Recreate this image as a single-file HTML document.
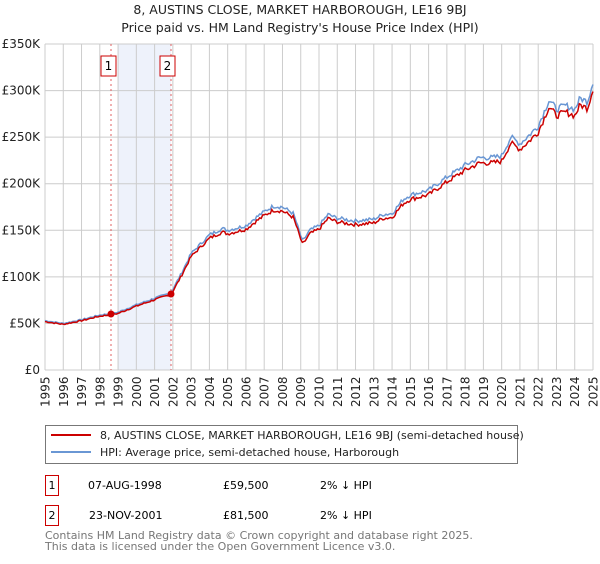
<!DOCTYPE html>
<html><head><meta charset="utf-8"><style>
body{margin:0;background:#fff;font-family:"DejaVu Sans","Liberation Sans",sans-serif;}
</style></head><body>
<svg id="s" width="600" height="560" xmlns="http://www.w3.org/2000/svg" font-family="DejaVu Sans, Liberation Sans, sans-serif">
<text x="300" y="14" font-size="12.5" text-anchor="middle" fill="#222">8, AUSTINS CLOSE, MARKET HARBOROUGH, LE16 9BJ</text>
<text x="300" y="32" font-size="12.5" text-anchor="middle" fill="#222">Price paid vs. HM Land Registry's House Price Index (HPI)</text>
<rect x="118" y="44" width="53" height="326" fill="#eef2fb"/>
<g id="grid" stroke="#ccc" stroke-width="1"></g>
<line x1="111" y1="44" x2="111" y2="370" stroke="#e06060" stroke-dasharray="2,3"/>
<line x1="171" y1="44" x2="171" y2="370" stroke="#e06060" stroke-dasharray="2,3"/>
<g id="ylab" font-size="12" text-anchor="end" fill="#222"></g>
<g id="xlab" font-size="12" fill="#222"></g>
<path id="hpi" fill="none" stroke="#6a97d4" stroke-width="1.5"/>
<path id="pp" fill="none" stroke="#cc0000" stroke-width="1.5"/>
<circle cx="111" cy="314" r="3.5" fill="#cc0000"/>
<circle cx="171" cy="294" r="3.5" fill="#cc0000"/>
<rect x="101" y="56" width="15" height="20" fill="#fff" stroke="#cc0000"/>
<text x="108.5" y="70" font-size="12" text-anchor="middle">1</text>
<rect x="160" y="56" width="15" height="20" fill="#fff" stroke="#cc0000"/>
<text x="167.5" y="70" font-size="12" text-anchor="middle">2</text>
<rect x="45.5" y="425.5" width="472" height="38" fill="#fff" stroke="#777"/>
<line x1="51" y1="435" x2="91" y2="435" stroke="#cc0000" stroke-width="2"/>
<line x1="51" y1="452" x2="91" y2="452" stroke="#6a97d4" stroke-width="2"/>
<text x="100" y="439" font-size="11" fill="#222">8, AUSTINS CLOSE, MARKET HARBOROUGH, LE16 9BJ (semi-detached house)</text>
<text x="100" y="456" font-size="11" fill="#222">HPI: Average price, semi-detached house, Harborough</text>
<rect x="45.5" y="475.5" width="13" height="20" fill="#fff" stroke="#cc0000"/>
<text x="52" y="489" font-size="11" text-anchor="middle">1</text>
<text x="88" y="489" font-size="11">07-AUG-1998</text>
<text x="223" y="489" font-size="11">£59,500</text>
<text x="320" y="489" font-size="11">2% ↓ HPI</text>
<rect x="45.5" y="505.5" width="13" height="20" fill="#fff" stroke="#cc0000"/>
<text x="52" y="519" font-size="11" text-anchor="middle">2</text>
<text x="89" y="519" font-size="11">23-NOV-2001</text>
<text x="223" y="519" font-size="11">£81,500</text>
<text x="320" y="519" font-size="11">2% ↓ HPI</text>
<text x="45" y="539" font-size="11" fill="#777">Contains HM Land Registry data © Crown copyright and database right 2025.</text>
<text x="45" y="550" font-size="11" fill="#777">This data is licensed under the Open Government Licence v3.0.</text>
</svg>
<script>
var NS="http://www.w3.org/2000/svg";
function X(y){return 45+(y-1995)*548/30;}
function Y(v){return 370-v/350000*326;}
var g=document.getElementById('grid'),yl=document.getElementById('ylab'),xl=document.getElementById('xlab');
for(var i=0;i<=7;i++){var y=Y(i*50000);var l=document.createElementNS(NS,'line');l.setAttribute('x1',45);l.setAttribute('x2',593);l.setAttribute('y1',y);l.setAttribute('y2',y);g.appendChild(l);
var t=document.createElementNS(NS,'text');t.setAttribute('x',40);t.setAttribute('y',y+4);t.textContent=i==0?'£0':'£'+(i*50)+'K';yl.appendChild(t);}
for(var yr=1995;yr<=2025;yr++){var x=X(yr);var l=document.createElementNS(NS,'line');l.setAttribute('x1',x);l.setAttribute('x2',x);l.setAttribute('y1',44);l.setAttribute('y2',370);g.appendChild(l);
var t=document.createElementNS(NS,'text');t.setAttribute('transform','translate('+(x+4.5)+',407) rotate(-90)');t.textContent=yr;xl.appendChild(t);}
var K=[[1995,53],[1996,50],[1997,54],[1998,59],[1998.6,60.5],[1999,62],[2000,70],[2001,77],[2001.9,83],[2002.5,105],[2003,125],[2003.5,135],[2004,145],[2004.7,152],[2005,150],[2006,155],[2006.5,163],[2007,170],[2007.5,176],[2008,175],[2008.6,168],[2008.9,150],[2009.1,138],[2009.5,150],[2010,155],[2010.5,167],[2011,163],[2012,160],[2013,162],[2013.5,167],[2014,168],[2014.6,183],[2015,188],[2016,193],[2016.5,200],[2017,207],[2018,220],[2018.8,228],[2019.5,228],[2020,230],[2020.5,250],[2021,243],[2021.5,252],[2022,262],[2022.6,290],[2023,280],[2023.5,284],[2024,280],[2024.3,292],[2024.7,288],[2025,310]];
function f(t){for(var i=0;i<K.length-1;i++){if(t<=K[i+1][0]){var a=K[i],b=K[i+1];return a[1]+(b[1]-a[1])*(t-a[0])/(b[0]-a[0]);}}return K[K.length-1][1];}
var s=7,h='',p='';
function r(){s=(s*9301+49297)%233280;return s/233280-0.5;}
for(var m=0;m<=360;m++){var t=1995+m/12;var v=f(t)*1000*(1+r()*0.025);var pv=v*(t<2002?0.98:0.975);
h+=(m?'L':'M')+X(t).toFixed(1)+','+Y(v).toFixed(1);p+=(m?'L':'M')+X(t).toFixed(1)+','+Y(pv).toFixed(1);}
document.getElementById('hpi').setAttribute('d',h);document.getElementById('pp').setAttribute('d',p);
</script>
</body></html>
